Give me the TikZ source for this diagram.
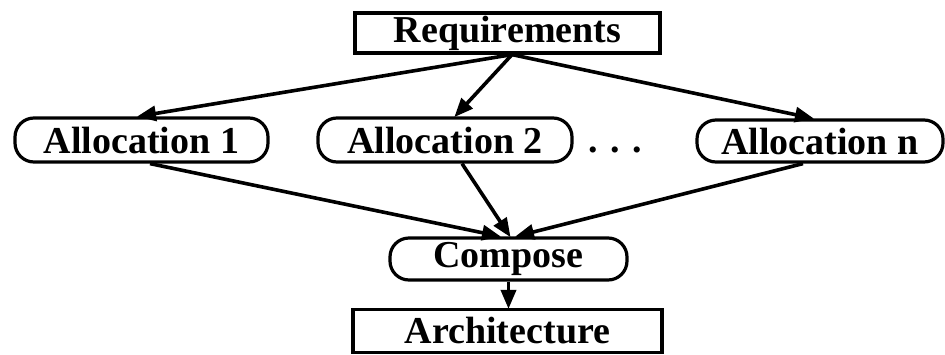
\documentclass[tikz,border=0pt]{standalone}
\usepackage{fontspec}
\setmainfont{Liberation Serif}
\usetikzlibrary{arrows.meta}
\begin{document}
\begin{tikzpicture}[x=1pt,y=-1pt,
  label font/.style={font=\fontsize{38}{40}\selectfont\bfseries},
  squarebox/.style={draw, line width=3.2pt, inner sep=0pt, label font},
  roundbox/.style={draw, line width=3.2pt, rounded corners=19pt, inner sep=0pt, label font},
  flow/.style={line width=3.6pt, -{Triangle[length=19pt,width=15pt]}, shorten >=-1pt}]
\useasboundingbox (0,0) rectangle (945,354);

% boxes
\node[squarebox, minimum width=305pt, minimum height=40pt] (req) at (507.5,33) {Requirements};
\node[roundbox, minimum width=253pt, minimum height=44pt] (a1) at (141.5,140) {Allocation 1};
\node[roundbox, minimum width=254pt, minimum height=44pt] (a2) at (445,140) {Allocation 2};
\node[roundbox, minimum width=246pt, minimum height=42pt] (an) at (820,141) {Allocation n};
\node[label font, inner sep=0pt, anchor=base] (dots) at (615,152.5) {. . .};
\node[roundbox, minimum width=237pt, minimum height=42pt] (cmp) at (508.5,259) {Compose};
\node[squarebox, minimum width=309pt, minimum height=43pt] (arch) at (507.5,331) {Architecture};

% requirements fan out to the allocations
\draw[flow] ([xshift=4.5pt]req.south) -- ([xshift=-3.5pt]a1.north);
\draw[flow] ([xshift=4.5pt]req.south) -- ([xshift=10pt]a2.north);
\draw[flow] ([xshift=4.5pt]req.south) -- ([xshift=-7pt]an.north);

% allocations merge into the composition step
\draw[flow] ([xshift=8.5pt]a1.south) -- ([xshift=-8.5pt]cmp.north);
\draw[flow] ([xshift=17pt]a2.south) -- ([xshift=1.5pt]cmp.north);
\draw[flow] ([xshift=-17pt]an.south) -- ([xshift=7.5pt]cmp.north);

% composition yields the architecture
\draw[flow] (cmp.south) -- (cmp.south |- arch.north);
\end{tikzpicture}
\end{document}
